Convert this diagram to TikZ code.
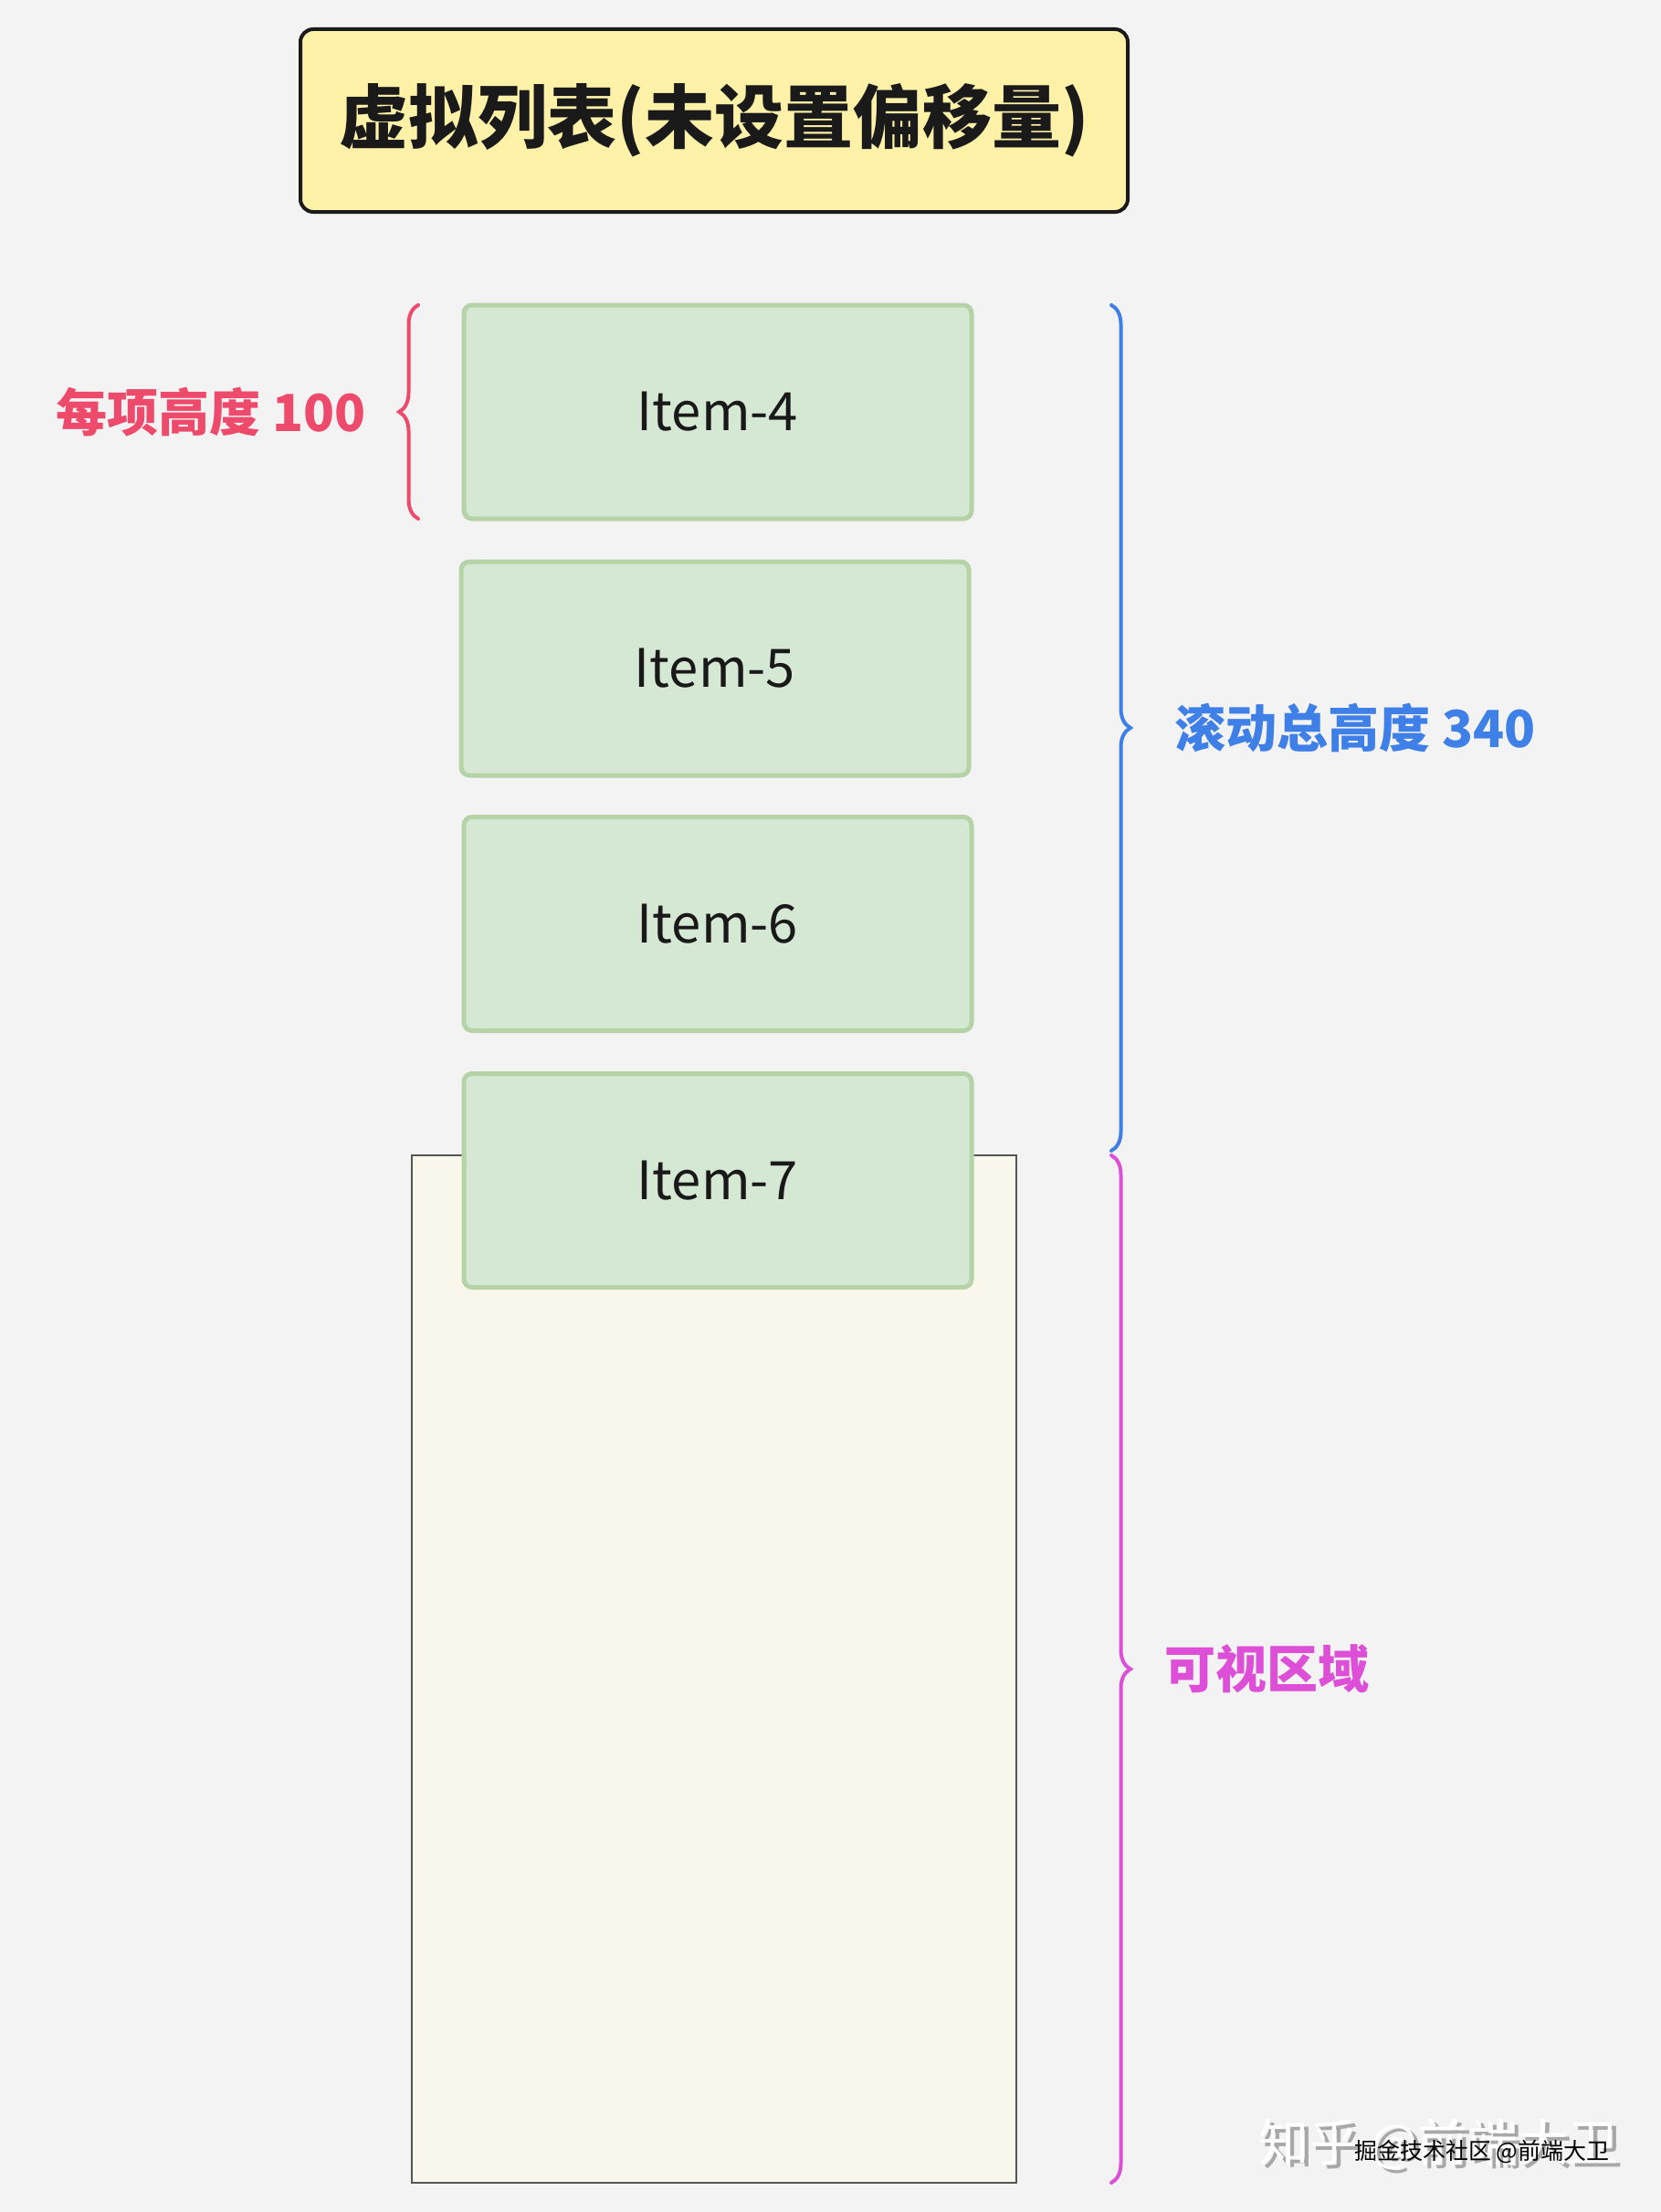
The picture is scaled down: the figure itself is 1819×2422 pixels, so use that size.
\documentclass[tikz,border=0pt]{standalone}
\usepackage{fontspec}
\setmainfont{Noto Sans CJK SC}
\usetikzlibrary{decorations.pathreplacing}
\definecolor{bgc}{HTML}{F3F3F3}
\definecolor{titlefill}{HTML}{FFF2A8}
\definecolor{titleline}{HTML}{1A1A1A}
\definecolor{itemfill}{HTML}{D5E8D4}
\definecolor{itemline}{HTML}{B5D3A6}
\definecolor{viewfill}{HTML}{F9F7EC}
\definecolor{viewline}{HTML}{555555}
\definecolor{redc}{HTML}{EE4A6C}
\definecolor{bluec}{HTML}{3F7FE8}
\definecolor{magc}{HTML}{DD4FD6}
\definecolor{shadowc}{HTML}{A8A8A8}
\tikzset{
  titlebox/.style={draw=titleline, fill=titlefill, line width=4pt, rounded corners=14pt,
    minimum width=906pt, minimum height=200pt, inner sep=0pt, outer sep=0pt,
    font=\fontsize{76}{84}\selectfont\bfseries, text=titleline},
  itembox/.style={draw=itemline, fill=itemfill, line width=5pt, rounded corners=9pt,
    minimum width=556pt, minimum height=234pt, inner sep=0pt, outer sep=0pt,
    font=\fontsize{58}{66}\selectfont, text=black!90},
  viewbox/.style={draw=viewline, fill=viewfill, line width=2.5pt,
    minimum width=662pt, minimum height=1125pt, inner sep=0pt, outer sep=0pt},
  bracepath/.style={decorate, decoration={brace, amplitude=21pt}, line width=4pt, line cap=round},
  lbl/.style={font=\fontsize{56}{64}\selectfont\bfseries, inner sep=0pt},
}
\begin{document}
\begin{tikzpicture}[x=1pt,y=-1pt]
\fill[bgc] (0,0) rectangle (1819,2422);
\useasboundingbox (0,0) rectangle (1819,2422);

\node[titlebox] (title) at (782,132) {虚拟列表(未设置偏移量)};

\node[viewbox] (view) at (782,1827.5) {};

\node[itembox] (i4) at (786,451) {Item-4};
\node[itembox] (i5) at (783,732) {Item-5};
\node[itembox] (i6) at (786,1011.5) {Item-6};
\node[itembox] (i7) at (786,1292.5) {Item-7};

% brace end points
\coordinate (rb1) at (458,568);
\coordinate (rb2) at (458,334);
\coordinate (bb1) at (1217,334);
\coordinate (bb2) at (1217,1260);
\coordinate (mb1) at (1217,1265);
\coordinate (mb2) at (1217,2390);

\draw[bracepath, redc] (rb1) -- (rb2);
\draw[bracepath, bluec] (bb1) -- (bb2);
\draw[bracepath, magc] (mb1) -- (mb2);

\node[lbl, text=redc, anchor=east] (lred) at (401,451) {每项高度 100};
\node[lbl, text=bluec, anchor=west] (lblue) at (1286,797) {滚动总高度 340};
\node[lbl, text=magc, anchor=west] (lmag) at (1275,1827) {可视区域};

% watermark
\node[font=\fontsize{55}{60}\selectfont, text=shadowc, anchor=west, inner sep=0pt] (wms) at (1383,2352) {知乎 @前端大卫};
\node[font=\fontsize{55}{60}\selectfont, text=white, anchor=west, inner sep=0pt] (wm) at (1378,2348) {知乎 @前端大卫};
\node[font=\fontsize{25}{28}\selectfont, text=black, anchor=west, inner sep=0pt] (wm2) at (1483,2356) {掘金技术社区 @前端大卫};
\end{tikzpicture}
\end{document}
